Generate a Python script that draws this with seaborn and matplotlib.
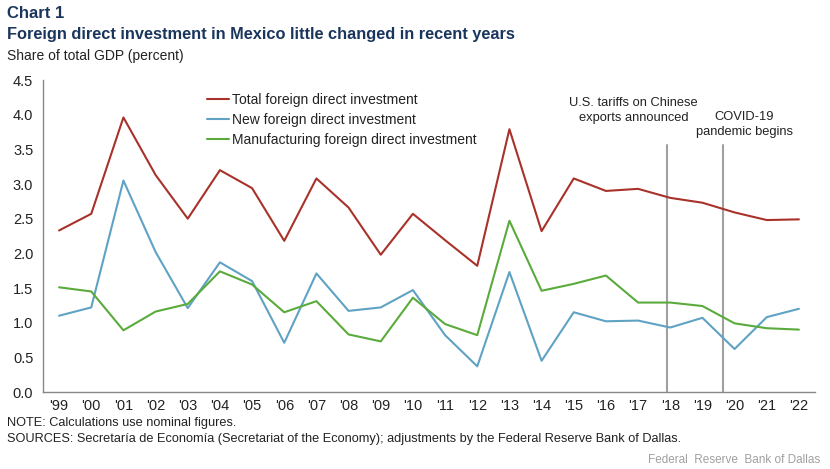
import matplotlib
matplotlib.use("Agg")
import matplotlib.pyplot as plt
import seaborn as sns
import pandas as pd
import numpy as np

years = ["'99", "'00", "'01", "'02", "'03", "'04", "'05", "'06", "'07", "'08", "'09", "'10",
         "'11", "'12", "'13", "'14", "'15", "'16", "'17", "'18", "'19", "'20", "'21", "'22"]
total_fdi = [2.33, 2.57, 3.96, 3.13, 2.50, 3.20, 2.94, 2.18, 3.08, 2.66, 1.98, 2.57,
             2.19, 1.82, 3.79, 2.32, 3.08, 2.90, 2.93, 2.80, 2.73, 2.59, 2.48, 2.49]
new_fdi = [1.10, 1.22, 3.05, 2.02, 1.21, 1.87, 1.60, 0.71, 1.71, 1.17, 1.22, 1.47,
           0.82, 0.37, 1.73, 0.45, 1.15, 1.02, 1.03, 0.93, 1.07, 0.62, 1.08, 1.20]
mfg_fdi = [1.51, 1.45, 0.89, 1.16, 1.27, 1.74, 1.55, 1.15, 1.31, 0.83, 0.73, 1.36,
           0.98, 0.82, 2.47, 1.46, 1.56, 1.68, 1.29, 1.29, 1.24, 0.99, 0.92, 0.90]
series_names = ["Total foreign direct investment", "New foreign direct investment",
                "Manufacturing foreign direct investment"]
colors = ["#a8322a", "#5fa2c4", "#5aab3c"]
events = ["U.S. tariffs on Chinese\nexports announced", "COVID-19\npandemic begins"]
event_pos = [18.9, 20.65]

sns.set_theme(style="white")
plt.rcParams["font.family"] = ["Liberation Sans", "DejaVu Sans"]

df = pd.DataFrame({"x": np.arange(len(years))})
long = pd.concat([
    pd.DataFrame({"x": df["x"], "value": v, "series": n})
    for v, n in zip([total_fdi, new_fdi, mfg_fdi], series_names)
])

fig = plt.figure(figsize=(8.3, 4.69), dpi=100)
ax = fig.add_axes([43/830, 1 - 392/469, (815-43)/830, (392-80)/469])

sns.lineplot(data=long, x="x", y="value", hue="series", palette=colors,
             hue_order=series_names, linewidth=1.5, ax=ax, legend=True)

for p in event_pos:
    ax.plot([p, p], [0, 3.56], color="#a0a0a0", linewidth=1.5, zorder=1)

ax.text(17.85, 4.06, events[0], ha="center", va="center", fontsize=9.3, color="#222222", linespacing=1.3)
ax.text(21.3, 3.86, events[1], ha="center", va="center", fontsize=9.3, color="#222222", linespacing=1.3)

ax.set_xlim(-0.5, 23.5)
ax.set_ylim(0, 4.5)
ax.set_yticks(np.arange(0, 4.51, 0.5))
ax.set_yticklabels([f"{v:.1f}" for v in np.arange(0, 4.51, 0.5)], fontsize=10.5, color="#222222")
ax.set_xticks(np.arange(len(years)))
ax.set_xticklabels(years, fontsize=10.5, color="#222222")
ax.set_xticks(np.arange(-0.5, 23.6, 1), minor=True)
ax.tick_params(axis="x", which="major", length=0, pad=5)
ax.tick_params(axis="x", which="minor", length=4, width=1, color="#888888", direction="out")
ax.tick_params(axis="y", length=4, width=1, color="#888888", direction="out", pad=3)
ax.set_xlabel("")
ax.set_ylabel("")
for s in ["top", "right"]:
    ax.spines[s].set_visible(False)
for s in ["left", "bottom"]:
    ax.spines[s].set_color("#888888")
    ax.spines[s].set_linewidth(1)

leg = ax.legend(loc="upper left", bbox_to_anchor=(0.205, 0.975), frameon=False,
                fontsize=10, handlelength=1.6, handletextpad=0.2, labelspacing=0.42,
                borderaxespad=0)
for t in leg.get_texts():
    t.set_color("#222222")

navy = "#1b365d"
fig.text(7/830, 1 - 14/469, "Chart 1", fontsize=12, fontweight="bold", color=navy, va="center")
fig.text(7/830, 1 - 35/469, "Foreign direct investment in Mexico little changed in recent years",
         fontsize=11.8, fontweight="bold", color=navy, va="center")
fig.text(7/830, 1 - 56/469, "Share of total GDP (percent)", fontsize=10, color="#222222", va="center")
fig.text(7/830, 1 - 423/469, "NOTE: Calculations use nominal figures.", fontsize=9.2,
         color="#222222", va="center")
fig.text(7/830, 1 - 439/469,
         "SOURCES: Secretaría de Economía (Secretariat of the Economy); adjustments by the Federal Reserve Bank of Dallas.",
         fontsize=9.2, color="#222222", va="center")
fig.text(820/830, 1 - 460/469, "Federal  Reserve  Bank of Dallas", fontsize=8.5,
         color="#a0a0a0", ha="right", va="center")

fig.savefig("out.png", dpi=100)
